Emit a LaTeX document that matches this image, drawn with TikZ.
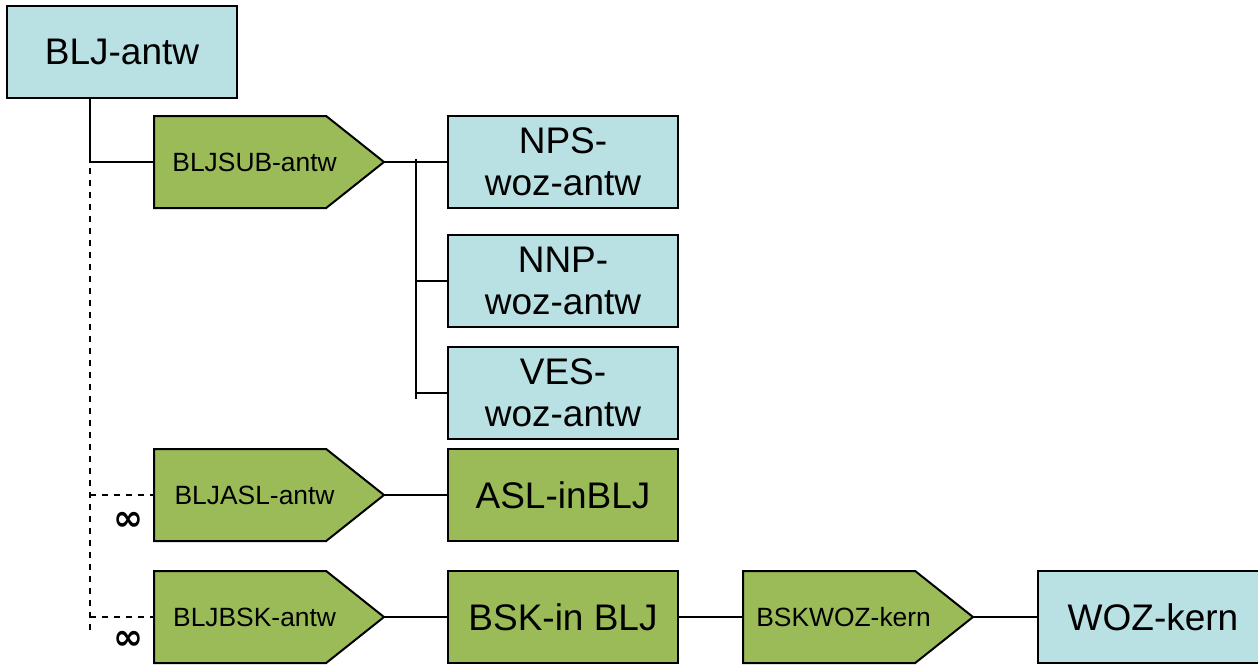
\documentclass[tikz,border=0pt]{standalone}
\usepackage{fontspec}
\setmainfont{Liberation Sans}
\newfontfamily\symfont{DejaVu Sans}
\usetikzlibrary{positioning,calc,shapes.symbols}
\definecolor{entblue}{HTML}{B9E0E3}
\definecolor{entgreen}{HTML}{9BBB59}
% label of a relationship, centred a bit towards its tip
\newcommand{\rlabel}[1]{\makebox[60pt][c]{\hspace*{14.5pt}#1}}
\tikzset{
  entity/.style={rectangle, draw=black, line width=1pt, fill=entblue,
    minimum width=115pt, minimum height=46pt, inner sep=0pt, outer sep=0pt,
    align=center, font=\fontsize{18.5}{21}\selectfont},
  bigent/.style={entity, fill=entgreen},
  relship/.style={signal, signal to=east, signal pointer angle=77,
    draw=black, line width=1pt, fill=entgreen,
    minimum width=115pt, minimum height=46pt, inner sep=0pt, outer sep=0pt,
    font=\fontsize{13.2}{15}\selectfont},
  link/.style={line width=0.75pt},
  optlink/.style={link, dashed},
  mult/.style={font=\symfont\bfseries\fontsize{18}{18}\selectfont, inner sep=0pt}
}
\begin{document}
\begin{tikzpicture}[x=0.5pt, y=-0.5pt]
\useasboundingbox (0,0) rectangle (1258,664);

% ---- Top entity and its sub-relationship ----
\node[entity, anchor=north west] (blj) at (7,6) {BLJ-antw};
\node[relship, anchor=north west] (sub) at (154,116) {\rlabel{BLJSUB-antw}};

% ---- Specialisations ----
\node[entity, right=32pt of sub] (nps) {NPS-\\woz-antw};
\node[entity, below=13.5pt of nps] (nnp) {NNP-\\woz-antw};
\node[entity, below=10pt of nnp]  (ves) {VES-\\woz-antw};

% ---- Lower rows ----
\node[relship, anchor=north west] (aslrel) at (154,449) {\rlabel{BLJASL-antw}};
\node[bigent, right=32pt of aslrel] (asl) {ASL-inBLJ};
\node[relship, below=15pt of aslrel] (bskrel) {\rlabel{BLJBSK-antw}};
\node[bigent, right=32pt of bskrel] (bsk) {BSK-in BLJ};
\node[relship, right=32.5pt of bsk] (wozrel) {\rlabel{BSKWOZ-kern}};
\node[entity, right=32.5pt of wozrel] (woz) {WOZ-kern};

% ---- Multiplicities ----
\node[mult] (aslmult) at ($(aslrel.south west)+(-26,-20)$) {∞};
\node[mult] (bskmult) at ($(bskrel.south west)+(-26,-23)$) {∞};

% ---- Trunk from BLJ-antw ----
\coordinate (trunk) at ($(blj.south west)!0.36!(blj.south east)$);
\coordinate (junction) at (trunk |- sub.west);
\coordinate (trunkend) at ([yshift=-6.5pt]junction |- bskrel.west);
\draw[link] (trunk) |- (sub.west);
\draw[optlink] ([yshift=-3pt]junction) -- (trunkend);
\draw[optlink] (junction |- aslrel.west) -- (aslrel.west);
\draw[optlink] (junction |- bskrel.west) -- (bskrel.west);

% ---- Fork to specialisations ----
\coordinate (fork) at ($(sub.east)!0.5!(nps.west)$);
\draw[link] (sub.east) -- (nps.west);
\draw[link] ([yshift=1.5pt]fork) -- ([yshift=-3pt]fork |- ves.west);
\draw[link] (fork |- nnp.west) -- (nnp.west);
\draw[link] (fork |- ves.west) -- (ves.west);

% ---- Bottom flow ----
\draw[link] (aslrel.east) -- (asl.west);
\draw[link] (bskrel.east) -- (bsk.west);
\draw[link] (bsk.east) -- (wozrel.west);
\draw[link] (wozrel.east) -- (woz.west);

\end{tikzpicture}
\end{document}
